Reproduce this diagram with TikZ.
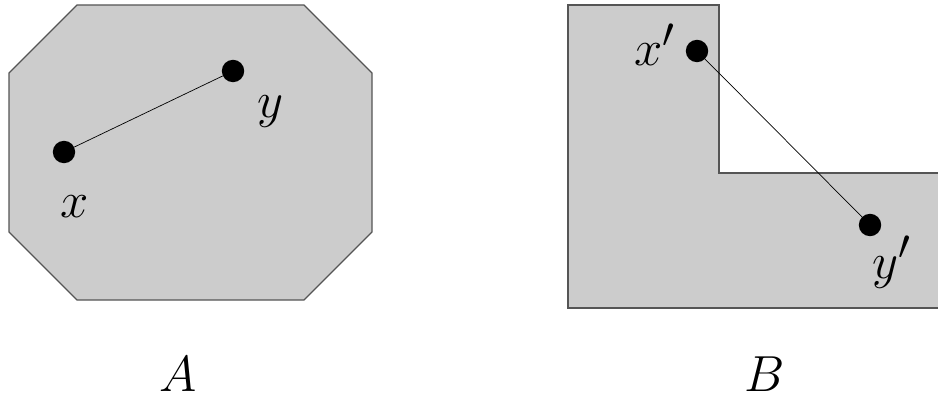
\documentclass[tikz,border=0pt]{standalone}
\usetikzlibrary{positioning}
\usepackage{xcolor}
\usepackage{graphicx}
\definecolor{Region}{HTML}{CCCCCC}
\definecolor{Edge}{HTML}{555555}
\newcommand{\setlbl}[1]{\scalebox{1.45}{$#1$}}

\begin{document}
\begin{tikzpicture}[x=0.025cm,y=-0.025cm,font=\Huge,
    pt/.style={circle,fill=black,inner sep=0pt,minimum size=0.56cm},
    lbl/.style={anchor=base,inner sep=0pt}]
    \useasboundingbox (0,0) rectangle (938,400);
    % convex set
    \filldraw[fill=Region,draw=Edge,line width=0.8pt]
      (77,5) -- (304,5) -- (372,73) -- (372,232) -- (304,300)
      -- (77,300) -- (9,232) -- (9,73) -- cycle;
    % non-convex set, runs off the right edge
    \filldraw[fill=Region,draw=Edge,line width=0.8pt]
      (568,5) -- (719,5) -- (719,173) -- (942,173) -- (942,308)
      -- (568,308) -- cycle;
    \node[pt] (x) at (64,152) {};
    \node[pt] (y) at (233,71) {};
    \node[pt] (xp) at (697,51) {};
    \node[pt] (yp) at (870,225) {};
    \draw[line width=0.5pt] (x) -- (y);
    \draw[line width=0.5pt] (xp) -- (yp);
    \node[lbl] (xlbl) at (75,217) {\setlbl{x}};
    \node[lbl] (ylbl) at (271,118) {\setlbl{y}};
    \node[lbl] (xplbl) at (655,66) {\setlbl{x'}};
    \node[lbl] (yplbl) at (892,278) {\setlbl{y'}};
    \node[lbl] (setA) at (178,391) {\setlbl{A}};
    \node[lbl] (setB) at (765,391) {\setlbl{B}};
  \end{tikzpicture}
\end{document}
